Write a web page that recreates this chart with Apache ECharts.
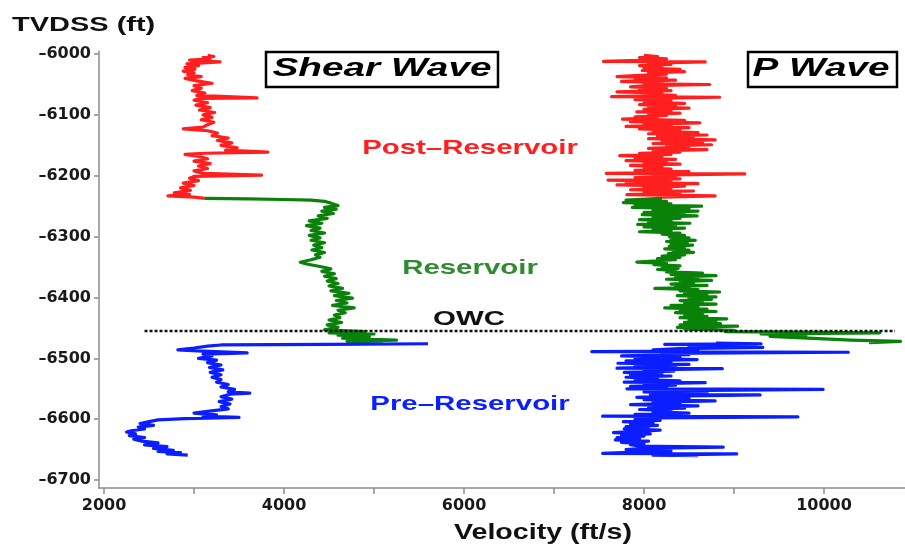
<!DOCTYPE html>
<html>
<head>
<meta charset="utf-8">
<title>Shear / P wave velocity log</title>
<script src="https://cdn.jsdelivr.net/npm/echarts@6.0.0/dist/echarts.min.js"></script>
<style>
  html, body { margin: 0; padding: 0; background: #fff; }
  #chart { width: 905px; height: 549px; }
</style>
</head>
<body>
<div id="chart"></div>
<script>
// tick positions
var xTicks = [2000, 3000, 4000, 5000, 6000, 7000, 8000, 9000, 10000];
var xLabels = [2000, 4000, 6000, 8000, 10000];
var yTicks = [-6000, -6100, -6200, -6300, -6400, -6500, -6600, -6700];

// oil-water contact depth, drawn across the plot
var owcLine = [[2450, -6455], [10790, -6455]];

// shear wave log, [velocity ft/s, TVDSS ft]
var shearPost = [
  [3150,-6002],[3220,-6004],[3100,-6006],[3180,-6008],[2950,-6010],[3290,-6013],[2920,-6016],[3050,-6019],
  [2900,-6022],[3010,-6025],[2880,-6028],[3000,-6031],[2930,-6034],[3080,-6037],[2900,-6040],[3030,-6044],
  [3200,-6048],[3000,-6052],[3080,-6056],[2980,-6060],[3120,-6064],[3030,-6068],[3700,-6072],[3060,-6073],
  [3000,-6076],[3150,-6080],[3020,-6084],[3180,-6088],[3060,-6092],[3230,-6096],[3100,-6100],[3200,-6104],
  [3080,-6108],[3220,-6112],[3150,-6116],[3100,-6120],[2880,-6123],[3150,-6126],[3260,-6130],[3200,-6134],
  [3380,-6138],[3260,-6142],[3420,-6146],[3300,-6150],[3480,-6154],[3350,-6158],[3820,-6161],[3120,-6163],
  [2900,-6165],[3050,-6168],[3150,-6172],[3000,-6176],[3180,-6180],[3050,-6184],[3150,-6188],[3000,-6192],
  [3100,-6196],[3750,-6199],[3000,-6201],[2950,-6204],[3050,-6208],[2880,-6212],[3000,-6216],[2850,-6220],
  [2960,-6224],[2780,-6228],[2950,-6231],[2710,-6233],[3000,-6235],[3120,-6237]
];
var shearRes = [
  [3120,-6237],[3600,-6238],[4000,-6239],[4300,-6240],[4450,-6242],[4520,-6245],[4600,-6249],[4450,-6252],
  [4580,-6255],[4420,-6258],[4550,-6262],[4380,-6266],[4480,-6270],[4280,-6274],[4420,-6278],[4250,-6282],
  [4400,-6286],[4300,-6290],[4450,-6294],[4280,-6298],[4400,-6302],[4300,-6306],[4450,-6310],[4330,-6314],
  [4420,-6318],[4310,-6322],[4450,-6326],[4350,-6330],[4400,-6334],[4300,-6338],[4180,-6342],[4250,-6345],
  [4400,-6349],[4520,-6353],[4420,-6357],[4560,-6361],[4450,-6365],[4580,-6369],[4480,-6373],[4600,-6377],
  [4500,-6381],[4650,-6385],[4520,-6389],[4720,-6393],[4560,-6397],[4760,-6401],[4580,-6405],[4700,-6409],
  [4540,-6413],[4780,-6417],[4600,-6421],[4680,-6425],[4560,-6429],[4620,-6433],[4500,-6437],[4640,-6441],
  [4480,-6445],[4600,-6449],[4450,-6453],[4900,-6456],[4500,-6458],[5000,-6460],[4600,-6462],[4950,-6464],
  [4650,-6467],[5250,-6470],[4700,-6472],[5100,-6474]
];
var shearPre = [
  [5600,-6476],[4500,-6477],[3300,-6478],[3150,-6480],[3000,-6483],[2820,-6486],[3100,-6488],[3590,-6491],
  [3100,-6493],[3200,-6496],[3050,-6500],[3250,-6503],[3150,-6507],[3300,-6511],[3170,-6515],[3320,-6519],
  [3180,-6523],[3300,-6527],[3200,-6531],[3300,-6535],[3250,-6539],[3380,-6543],[3300,-6547],[3450,-6551],
  [3380,-6555],[3620,-6557],[3400,-6559],[3300,-6563],[3420,-6567],[3280,-6571],[3400,-6575],[3300,-6579],
  [3380,-6583],[3150,-6587],[3000,-6590],[3250,-6593],[3100,-6595],[3500,-6597],[2900,-6599],[2600,-6601],
  [2500,-6604],[2400,-6607],[2550,-6610],[2380,-6613],[2450,-6616],[2300,-6619],[2250,-6621],[2350,-6624],
  [2280,-6627],[2450,-6630],[2330,-6633],[2420,-6636],[2600,-6639],[2450,-6642],[2700,-6645],[2550,-6648],
  [2770,-6651],[2600,-6653],[2850,-6655],[2700,-6657],[2930,-6659]
];

// P wave log, [velocity ft/s, TVDSS ft]
var pPost = [
  [8000,-6002],[8150,-6004],[7950,-6006],[8250,-6008],[8050,-6010],[7550,-6012],[8680,-6013],[8050,-6015],
  [8300,-6017],[7950,-6019],[8200,-6021],[8000,-6023],[8400,-6025],[7980,-6027],[8450,-6029],[8050,-6031],
  [8250,-6033],[7950,-6035],[7700,-6037],[8250,-6039],[7900,-6041],[8350,-6043],[7750,-6045],[8200,-6047],
  [8000,-6049],[8730,-6050],[8050,-6052],[7850,-6054],[8250,-6056],[7950,-6058],[8300,-6060],[7700,-6062],
  [8200,-6064],[8000,-6066],[8350,-6068],[7640,-6070],[8840,-6071],[8100,-6073],[7900,-6075],[8300,-6077],
  [8000,-6079],[8450,-6081],[7950,-6083],[8350,-6085],[8050,-6087],[8500,-6089],[8000,-6091],[8300,-6093],
  [7920,-6095],[8400,-6097],[8050,-6099],[8250,-6101],[7900,-6103],[8150,-6105],[7760,-6107],[8450,-6109],
  [7850,-6111],[8620,-6113],[8000,-6115],[8300,-6117],[7800,-6119],[8500,-6121],[7950,-6123],[8400,-6125],
  [8100,-6127],[8600,-6129],[8050,-6131],[8700,-6133],[8150,-6135],[8550,-6137],[8050,-6139],[8790,-6141],
  [8200,-6143],[8650,-6145],[8100,-6147],[8750,-6149],[8250,-6151],[8500,-6153],[8050,-6155],[8700,-6157],
  [8100,-6159],[8400,-6161],[7950,-6163],[8300,-6165],[7730,-6167],[8200,-6169],[7900,-6171],[8350,-6173],
  [7800,-6175],[8250,-6177],[8000,-6179],[8400,-6181],[7850,-6183],[8200,-6185],[8000,-6187],[8300,-6189],
  [7900,-6191],[8500,-6193],[8000,-6195],[7580,-6196],[9120,-6197],[8100,-6199],[8350,-6201],[7900,-6203],
  [8400,-6205],[7600,-6207],[8300,-6209],[7800,-6211],[8600,-6213],[7700,-6215],[8450,-6217],[8000,-6219],
  [8300,-6221],[7850,-6223],[8550,-6225],[8000,-6227],[8400,-6229],[7810,-6231],[8790,-6233],[8200,-6235]
];
var pRes = [
  [8200,-6237],[7800,-6240],[8250,-6242],[7770,-6244],[8300,-6246],[7900,-6248],[8640,-6250],[7870,-6252],
  [8500,-6254],[8100,-6256],[8600,-6258],[8000,-6260],[8450,-6262],[7980,-6264],[8590,-6266],[8100,-6268],
  [8400,-6270],[7950,-6272],[8300,-6274],[8050,-6276],[8510,-6278],[7930,-6280],[8350,-6282],[8000,-6284],
  [8450,-6286],[8100,-6288],[8300,-6290],[7950,-6292],[8400,-6294],[8200,-6296],[8450,-6298],[8280,-6300],
  [8500,-6302],[8300,-6304],[8570,-6306],[8250,-6308],[8480,-6310],[8300,-6312],[8540,-6314],[8280,-6316],
  [8450,-6318],[8230,-6320],[8500,-6322],[8320,-6324],[8550,-6326],[8270,-6328],[8450,-6330],[8200,-6332],
  [8400,-6334],[8150,-6336],[8350,-6338],[8100,-6340],[7920,-6342],[8250,-6344],[8110,-6346],[8400,-6348],
  [8200,-6350],[8380,-6352],[8150,-6354],[8350,-6356],[8250,-6358],[8650,-6360],[8300,-6362],[8800,-6364],
  [8350,-6366],[8600,-6368],[8250,-6370],[8750,-6372],[8400,-6374],[8550,-6376],[8300,-6378],[8700,-6380],
  [8350,-6382],[8500,-6384],[8120,-6385],[8600,-6387],[8400,-6389],[8840,-6391],[8450,-6393],[8700,-6395],
  [8370,-6397],[8800,-6399],[8500,-6401],[8750,-6403],[8400,-6405],[8650,-6407],[8450,-6409],[8800,-6411],
  [8300,-6413],[8600,-6415],[8230,-6417],[8700,-6419],[8400,-6421],[8800,-6423],[8350,-6425],[8650,-6427],
  [8450,-6429],[8700,-6431],[8400,-6433],[8920,-6435],[8500,-6437],[8800,-6439],[8450,-6441],[8850,-6443],
  [8400,-6445],[9040,-6447],[8370,-6449],[8700,-6450],[8450,-6452],[9000,-6454],[8900,-6456],[10620,-6458],
  [9300,-6460],[9800,-6462],[9400,-6464],[9700,-6466],[10000,-6468],[10300,-6470],[10850,-6472],[10500,-6474]
];
var pPre = [
  [8800,-6475],[9300,-6476],[8230,-6477],[9250,-6478],[8500,-6480],[9320,-6482],[8400,-6484],[8100,-6486],
  [8600,-6488],[7420,-6489],[10270,-6490],[8200,-6492],[8500,-6494],[7750,-6496],[8400,-6498],[7900,-6500],
  [8590,-6502],[7800,-6504],[8300,-6506],[7710,-6508],[8500,-6510],[7900,-6512],[8350,-6514],[7700,-6516],
  [8870,-6517],[8000,-6519],[8330,-6521],[7780,-6523],[8200,-6525],[7850,-6527],[8300,-6529],[7800,-6531],
  [8150,-6533],[7900,-6535],[8400,-6537],[7780,-6539],[8680,-6540],[8000,-6542],[8350,-6544],[7850,-6546],
  [8250,-6548],[7810,-6550],[9990,-6551],[8400,-6553],[8000,-6555],[8700,-6557],[8070,-6559],[9290,-6560],
  [8300,-6562],[7920,-6564],[8500,-6566],[8000,-6568],[8790,-6570],[8100,-6572],[8400,-6574],[7850,-6576],
  [8600,-6578],[8050,-6580],[8450,-6582],[7950,-6584],[8300,-6586],[8100,-6588],[8500,-6590],[7900,-6592],
  [8250,-6594],[7540,-6595],[9710,-6596],[8100,-6598],[7900,-6600],[8180,-6602],[7770,-6604],[8100,-6606],
  [7850,-6608],[8150,-6610],[7800,-6612],[8050,-6614],[7780,-6616],[8180,-6618],[7900,-6620],[7660,-6622],
  [8070,-6624],[7750,-6626],[8000,-6628],[7700,-6630],[7950,-6632],[7680,-6634],[8050,-6636],[7750,-6638],
  [8000,-6640],[7850,-6642],[7930,-6644],[8880,-6646],[8000,-6648],[7800,-6650],[8300,-6652],[7900,-6654],
  [7540,-6656],[9030,-6657],[8100,-6659],[8600,-6660]
];

var RED = '#ff1f1f', GREEN = '#0a820a', BLUE = '#0a1eff';
var AXIS = '#8c8c8c';

var chart = echarts.init(document.getElementById('chart'));

function logSeries(name, data, color){
    return {
        name: name,
        type: 'line',
        data: data,
        symbol: 'none',
        silent: true,
        lineStyle: { color: color, width: 3.2, join: 'round' },
        itemStyle: { color: color }
    };
}

function label(text, x, y, color, size, sx, style){
    return {
        type: 'text', x: x, y: y, scaleX: sx, z: 20,
        style: {
            text: text,
            font: (style || 'bold') + ' ' + size + 'px "Liberation Sans", Arial, sans-serif',
            fill: color,
            align: 'center', verticalAlign: 'middle',
            textAlign: 'center', textVerticalAlign: 'middle'
        }
    };
}

var option = {
    animation: false,
    backgroundColor: '#fff',
    grid: { left: 99, right: 0, top: 51, bottom: 61 },
    xAxis: {
        type: 'value',
        min: 1944,
        max: 10900,
        splitLine: { show: false },
        axisLine: { onZero: false, lineStyle: { color: AXIS, width: 1.5 } },
        axisTick: { length: 6, customValues: xTicks, lineStyle: { color: AXIS, width: 1.5 } },
        axisLabel: {
            customValues: xLabels,
            margin: 10,
            color: '#1a1a1a',
            fontFamily: 'DejaVu Sans',
            fontWeight: 'bold',
            fontSize: 16,
            formatter: function(v){ return String(v); }
        }
    },
    yAxis: {
        type: 'value',
        min: -6713,
        max: -5995,
        splitLine: { show: false },
        axisLine: { show: true, onZero: false, lineStyle: { color: AXIS, width: 1.5 } },
        axisTick: { show: true, length: 5, customValues: yTicks, lineStyle: { color: AXIS, width: 1.5 } },
        axisLabel: {
            customValues: yTicks,
            margin: 8,
            color: '#1a1a1a',
            fontFamily: 'DejaVu Sans',
            fontWeight: 'bold',
            fontSize: 16,
            formatter: function(v){ return '\u2013' + Math.abs(v); }
        }
    },
    series: [
        logSeries('Shear post-reservoir', shearPost, RED),
        logSeries('Shear reservoir', shearRes, GREEN),
        logSeries('Shear pre-reservoir', shearPre, BLUE),
        logSeries('P post-reservoir', pPost, RED),
        logSeries('P reservoir', pRes, GREEN),
        logSeries('P pre-reservoir', pPre, BLUE),
        {
            name: 'OWC',
            type: 'line',
            data: owcLine,
            symbol: 'none',
            silent: true,
            z: 5,
            lineStyle: { color: '#111', width: 2.5, type: [3, 2] }
        }
    ],
    graphic: [
        // axis titles
        {
            type: 'text', x: 12, y: 25, scaleX: 1.38, z: 20,
            style: { text: 'TVDSS (ft)', font: 'bold 21px "Liberation Sans", Arial, sans-serif', fill: '#111',
                     align: 'left', verticalAlign: 'middle', textAlign: 'left', textVerticalAlign: 'middle' }
        },
        label('Velocity (ft/s)', 543, 533, '#111', 22, 1.3),
        // boxed titles
        {
            type: 'rect', z: 19,
            shape: { x: 266, y: 52, width: 232, height: 35 },
            style: { fill: '#fff', stroke: '#000', lineWidth: 2.5 }
        },
        label('Shear Wave', 382, 69, '#000', 25, 1.55, 'italic bold'),
        {
            type: 'rect', z: 19,
            shape: { x: 748, y: 52, width: 149, height: 35 },
            style: { fill: '#fff', stroke: '#000', lineWidth: 2.5 }
        },
        label('P Wave', 821, 69, '#000', 25, 1.55, 'italic bold'),
        // zone labels
        label('Post\u2013Reservoir', 470, 148, RED, 21, 1.4),
        label('Reservoir', 470, 268, '#2e8b2e', 21, 1.4),
        label('OWC', 469, 319, '#111', 21, 1.4),
        label('Pre\u2013Reservoir', 470, 404, BLUE, 21, 1.4)
    ]
};

chart.setOption(option);
</script>
</body>
</html>
